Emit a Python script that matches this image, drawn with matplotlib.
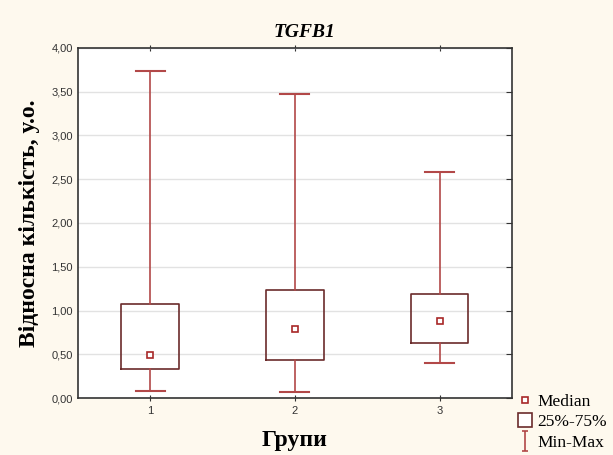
import matplotlib
matplotlib.use('Agg')
import matplotlib.pyplot as plt
from matplotlib.lines import Line2D
from matplotlib.path import Path
from matplotlib.ticker import FuncFormatter

groups = [1, 2, 3]
q1 = [0.33, 0.43, 0.63]
q3 = [1.07, 1.23, 1.19]
medians = [0.49, 0.79, 0.88]
mins = [0.08, 0.07, 0.40]
maxs = [3.73, 3.47, 2.58]

bg = '#FEF9EE'
box_col = '#6B2B2B'
whisk_col = '#B24848'
med_col = '#A82828'

fig = plt.figure(figsize=(6.13, 4.55), dpi=100, facecolor=bg)
ax = fig.add_axes([0.127, 0.125, 0.708, 0.770])

stats = []
for g, lo, a, m, b, hi in zip(groups, mins, q1, medians, q3, maxs):
    stats.append({'med': m, 'q1': a, 'q3': b, 'whislo': lo, 'whishi': hi,
                  'mean': m, 'fliers': []})

ax.bxp(stats, positions=groups, widths=0.4, showmeans=True, showfliers=False,
       capwidths=0.2,
       boxprops=dict(color=box_col, linewidth=1.2),
       whiskerprops=dict(color=whisk_col, linewidth=1.2),
       capprops=dict(color=whisk_col, linewidth=1.5),
       medianprops=dict(linewidth=0),
       meanprops=dict(marker='s', markersize=5, markerfacecolor='white',
                      markeredgecolor=med_col, markeredgewidth=1.2),
       zorder=3)

ax.set_xlim(0.5, 3.5)
ax.set_ylim(0, 4)
ax.set_yticks([0, 0.5, 1, 1.5, 2, 2.5, 3, 3.5, 4])
ax.yaxis.set_major_formatter(FuncFormatter(lambda v, p: '{:.2f}'.format(v).replace('.', ',')))
ax.set_xticks(groups)
ax.grid(axis='y', color='#E2E2E2', linewidth=1, zorder=0)
ax.tick_params(axis='y', left=False, right=True, direction='in', length=4,
               labelsize=8, labelcolor='#333333', color='#333333')
ax.tick_params(axis='x', bottom=True, top=True, direction='inout', length=4,
               labelsize=8, labelcolor='#333333', color='#333333')
for lab in ax.get_xticklabels() + ax.get_yticklabels():
    lab.set_fontfamily('Liberation Sans')
for s in ax.spines.values():
    s.set_color('#333333')
    s.set_linewidth(1.2)

ax.set_title('TGFB1', fontfamily='Liberation Serif', fontsize=14,
             fontweight='bold', fontstyle='italic', pad=8, x=0.523)
ax.set_xlabel('Групи', fontfamily='Liberation Serif', fontsize=17,
              fontweight='bold', labelpad=10)
ax.set_ylabel('Відносна кількість, у.о.', fontfamily='Liberation Serif',
              fontsize=17, fontweight='bold', labelpad=8)

i_marker = Path([(-0.28, 1), (0.28, 1), (0, 1), (0, -1), (-0.28, -1), (0.28, -1)],
                [Path.MOVETO, Path.LINETO, Path.MOVETO, Path.LINETO,
                 Path.MOVETO, Path.LINETO])
handles = [
    Line2D([], [], linestyle='none', marker='s', markersize=5,
           markerfacecolor='white', markeredgecolor=med_col, markeredgewidth=1.2),
    Line2D([], [], linestyle='none', marker='s', markersize=10,
           markerfacecolor='white', markeredgecolor=box_col, markeredgewidth=1.2),
    Line2D([], [], linestyle='none', marker=i_marker, markersize=14,
           markerfacecolor='none', markeredgecolor=whisk_col, markeredgewidth=1.2),
]
labels = ['Median', '25%-75%', 'Min-Max']
fig.legend(handles, labels, loc='upper left', bbox_to_anchor=(0.826, 0.154),
           frameon=False, handlelength=1.1, handletextpad=0.2,
           labelspacing=0.26, borderpad=0,
           prop={'family': 'Liberation Serif', 'size': 12.5})

fig.savefig('out.png', dpi=100, facecolor=bg)
